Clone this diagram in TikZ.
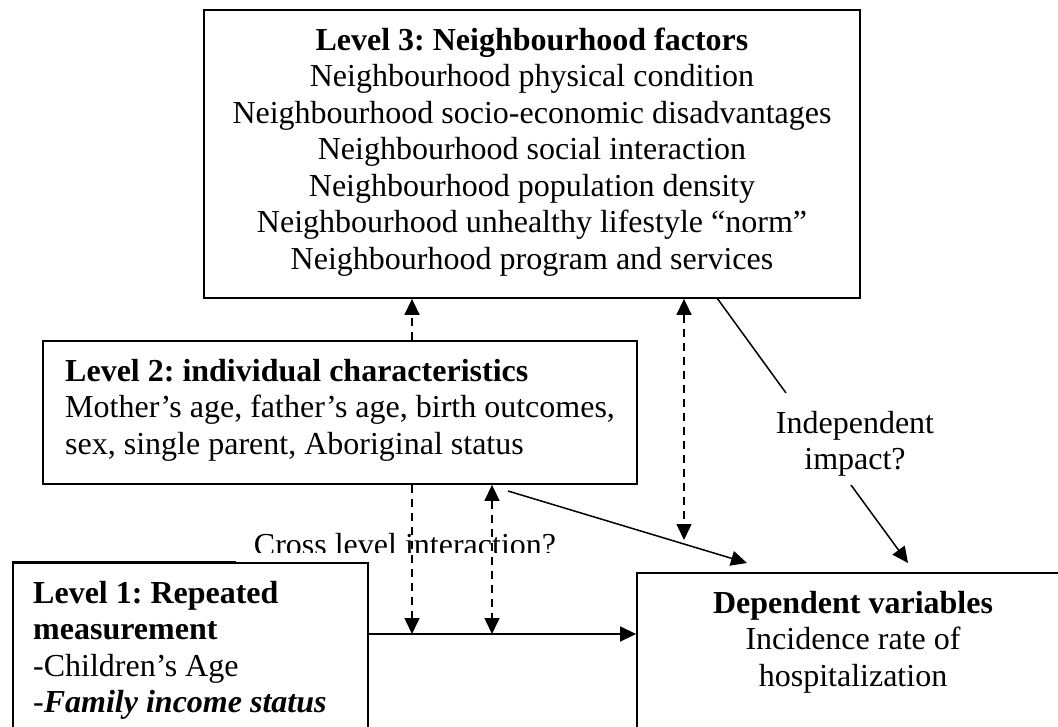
\documentclass[tikz,border=0pt]{standalone}
\usepackage{fontspec}
\setmainfont{Liberation Serif}
\usetikzlibrary{arrows.meta}

\newcommand{\bigtext}{\fontsize{32}{36.5}\selectfont\frenchspacing}

\begin{document}
\begin{tikzpicture}[x=1pt,y=-1pt,
  box/.style={draw, line width=1.8pt, rectangle, inner sep=0pt, fill=white},
  txt/.style={inner sep=0pt, font=\bigtext},
  link/.style={line width=1.5pt, -{Triangle[length=16pt,width=15pt]}},
  duallink/.style={line width=1.5pt, {Triangle[length=16pt,width=15pt]}-{Triangle[length=16pt,width=15pt]}},
  plain/.style={line width=1.5pt},
  dashy/.style={dash pattern=on 8pt off 6pt}
]
\useasboundingbox (0,0) rectangle (1058,726);

% boxes
\node[box, minimum width=656pt, minimum height=288pt] (l3) at (532,154) {};
\node[box, minimum width=594pt, minimum height=143pt] (l2) at (340,412.5) {};
\node[box, minimum width=355pt, minimum height=200pt] (l1) at (190.5,663) {};
\node[box, minimum width=432pt, minimum height=190pt] (dep) at (853,668) {};
\draw[line width=1.2pt] (l1.north west) ++(0,-1) coordinate (l1tick) -- ++(224,0);

% box texts
\node[txt, anchor=north, align=center] (l3t) at (532,24.45) {\strut\textbf{Level 3: Neighbourhood factors}\\
  Neighbourhood physical condition\\
  Neighbourhood socio-economic disadvantages\\
  Neighbourhood social interaction\\
  Neighbourhood population density\\
  Neighbourhood unhealthy lifestyle “norm”\\
  Neighbourhood program and services};
\node[txt, anchor=north west, align=left] (l2t) at (65,355.45) {\strut\textbf{Level 2: individual characteristics}\\
  Mother’s age, father’s age, birth outcomes,\\
  sex, single parent, Aboriginal status};
\node[txt, anchor=north west, align=left] (l1t) at (33,577.45) {\strut\textbf{Level 1: Repeated}\\
  \textbf{measurement}\\
  -Children’s Age\\
  -\textbf{\textit{Family income status}}};
\node[txt, anchor=north, align=center] (dept) at (853,587.45) {\strut\textbf{Dependent variables}\\
  Incidence rate of\\
  hospitalization};

% free labels
\node[txt, anchor=north, align=center] (ind) at (855,407.45) {\strut Independent\\ impact?};
\begin{scope}
  \clip (200,500) rectangle (620,552);
  \node[txt, anchor=base] (cross) at (405,555) {Cross level interaction?};
\end{scope}

% reference positions for connectors
\coordinate (xa) at (412,0);
\coordinate (xb) at (492,0);
\coordinate (xc) at (684,0);
\coordinate (ya) at (0,634);
\coordinate (l2s) at (508,491);
\coordinate (l2e) at (747,563);
\coordinate (ind1) at (717,298);
\coordinate (ind2) at (786,393);
\coordinate (ind3) at (851,485);
\coordinate (ind4) at (908,563);
\coordinate (xcend) at (684,540);

% connectors
\draw[link] (l1.east |- ya) -- (dep.west |- ya);
\draw[link, dashy] (xa |- l2.north) -- (xa |- l3.south);
\draw[link, dashy] (xa |- l2.south) -- (xa |- ya);
\draw[duallink, dashy] (xb |- l2.south) -- (xb |- ya);
\draw[duallink, dashy] (xc |- l3.south) -- (xcend);
\draw[link] (l2s) -- (l2e);
\draw[plain] (ind1) -- (ind2);
\draw[link] (ind3) -- (ind4);
\end{tikzpicture}
\end{document}
